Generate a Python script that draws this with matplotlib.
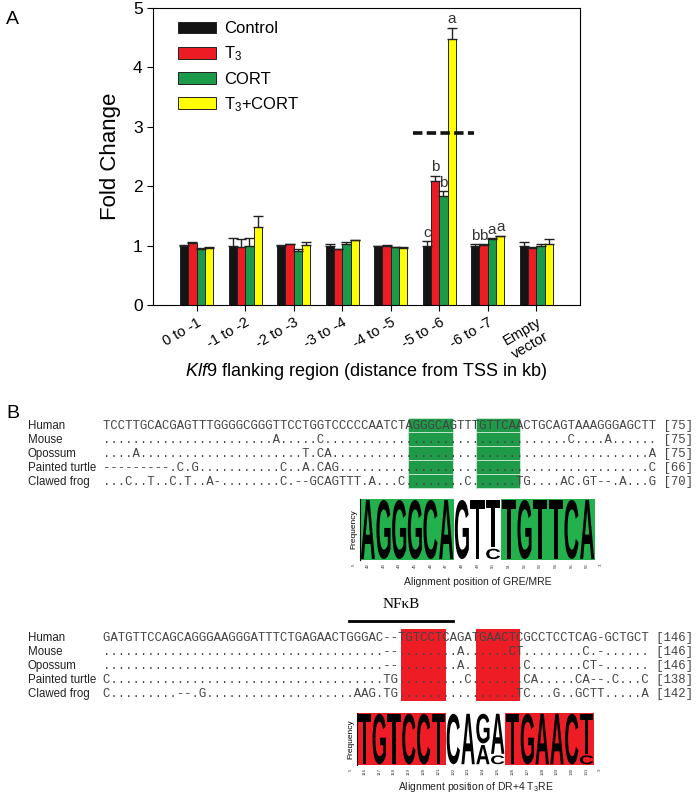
import numpy as np
import matplotlib
matplotlib.use("Agg")
import matplotlib.pyplot as plt
from matplotlib.patches import Rectangle, PathPatch, Patch
from matplotlib.textpath import TextPath
from matplotlib.font_manager import FontProperties
from matplotlib.transforms import Affine2D

plt.rcParams['font.family'] = ['Liberation Sans', 'DejaVu Sans']
plt.rcParams['mathtext.fontset'] = 'custom'
plt.rcParams['mathtext.rm'] = 'Liberation Sans'
plt.rcParams['mathtext.it'] = 'Liberation Sans:italic'

W, H = 700, 794

# ---- panel A data ----
regions = ["0 to -1", "-1 to -2", "-2 to -3", "-3 to -4", "-4 to -5",
           "-5 to -6", "-6 to -7", "Empty\nvector"]
treatments = ["Control", "T$_3$", "CORT", "T$_3$+CORT"]
control = [1.00, 0.99, 0.99, 1.00, 0.99, 0.99, 0.99, 0.99]
t3 = [1.04, 0.97, 1.02, 0.94, 1.00, 2.09, 1.01, 0.96]
cort = [0.95, 0.99, 0.91, 1.03, 0.97, 1.83, 1.11, 0.99]
t3_cort = [0.96, 1.32, 1.01, 1.09, 0.96, 4.48, 1.16, 1.02]
control_err = [0.01, 0.13, 0.02, 0.03, 0.01, 0.08, 0.04, 0.07]
t3_err = [0.02, 0.14, 0.01, 0.01, 0.01, 0.09, 0.01, 0.02]
cort_err = [0.01, 0.13, 0.04, 0.03, 0.01, 0.09, 0.01, 0.04]
t3_cort_err = [0.01, 0.17, 0.05, 0.01, 0.01, 0.19, 0.01, 0.09]
sig_letters = {5: ["c", "b", "b", "a"], 6: ["b", "b", "a", "a"]}
threshold = 2.9
threshold_span = (4.45, 5.72)

# ---- panel B data ----
species = ["Human", "Mouse", "Opossum", "Painted turtle", "Clawed frog"]
gre_rows = [
    "TCCTTGCACGAGTTTGGGGCGGGTTCCTGGTCCCCCAATCTAGGGCAGTTTGTTCAACTGCAGTAAAGGGAGCTT",
    (".........." ".........." "...A.....C" ".........." ".........."
     ".........." "...C....A." "....."),
    ("....A....." ".........." ".......T.C" "A........." ".........."
     ".........." ".........." "....A"),
    ("---------." "C.G......." "....C..A.C" "AG........" ".........."
     ".........." ".........." "....C"),
    ("...C..T..C" ".T..A-...." "....C.--GC" "AGTTT.A..." "C........C"
     "......TG.." "..AC.GT--." "A...G"),
]
gre_counts = ["[75]", "[75]", "[75]", "[66]", "[70]"]
gre_sites = [(41, 46), (50, 55)]
gre_logo_cols = (41, 55)
gre_pos_offset = 1

t3re_rows = [
    "GATGTTCCAGCAGGGAAGGGATTTCTGAGAACTGGGAC--TGTCCTCAGATGAACTCGCCTCCTCAG-GCTGCT",
    (".........." ".........." ".........." "........--" "........A."
     ".....CT..." ".....C.-.." "...."),
    (".........." ".........." ".........." "........--" "........A."
     ".......C.." ".....CT-.." "...."),
    ("C........." ".........." ".........." "........TG" ".........C"
     ".......CA." "....CA--.C" "...C"),
    ("C........." "--.G......" ".........." "....AAG.TG" ".........."
     "......TC.." ".G..GCTT.." "...A"),
]
t3re_counts = ["[146]", "[146]", "[146]", "[138]", "[142]"]
t3re_sites = [(40, 45), (50, 55)]
t3re_logo_cols = (40, 55)
t3re_pos_offset = 76
nfkb_cols = (33, 46)

bar_colors = ["#141414", "#ec1c24", "#1b9a4a", "#ffff00"]
box_green, logo_green = "#1f9a48", "#22b14c"
box_red = "#ee1c25"

fig = plt.figure(figsize=(W / 100, H / 100), dpi=100)

# overlay in pixel coordinates for the alignment text
ov = fig.add_axes([0, 0, 1, 1])
ov.set_xlim(0, W)
ov.set_ylim(H, 0)
ov.axis("off")

# ---------------- panel A ----------------
ax = fig.add_axes([153 / W, 1 - 305 / H, 427 / W, 297 / H])
x = np.arange(len(regions))
width = 0.172
series = [control, t3, cort, t3_cort]
errs = [control_err, t3_err, cort_err, t3_cort_err]
for i, (vals, err, col) in enumerate(zip(series, errs, bar_colors)):
    xs = x + (i - 1.5) * width
    ax.bar(xs, vals, width, color=col, edgecolor="#222222", linewidth=0.7,
           label=treatments[i], zorder=2)
    ax.errorbar(xs, vals, yerr=[np.zeros(len(vals)), err], fmt="none",
                ecolor="#222222", elinewidth=1, capsize=3.5, capthick=1, zorder=3)
for g, letters in sig_letters.items():
    for i, let in enumerate(letters):
        top = series[i][g] + errs[i][g]
        ax.text(g + (i - 1.5) * width, top + 0.02, let, ha="center", va="bottom",
                fontsize=11, color="#333333")
ax.plot(threshold_span, [threshold, threshold], color="#111111", lw=2.6,
        dashes=(2.6, 1.2), zorder=4)

ax.set_xlim(-0.9, 7.9)
ax.set_ylim(0, 5)
ax.set_yticks(range(6))
ax.tick_params(axis="y", labelsize=12.5, direction="out", length=4)
ax.set_xticks(x)
ax.set_xticklabels(regions, rotation=30, ha="right", rotation_mode="anchor",
                   fontsize=10.5, multialignment="center")
ax.tick_params(axis="x", direction="out", length=4)
ax.set_ylabel("Fold Change", fontsize=16)
ax.yaxis.set_label_coords(-0.075, 0.5)
ax.set_xlabel(r"$\it{Klf9}$ flanking region (distance from TSS in kb)", fontsize=13)
ax.xaxis.set_label_coords(0.5, -0.19)
handles = [Patch(facecolor=c, edgecolor="#222222", linewidth=0.7, label=l)
           for c, l in zip(bar_colors, treatments)]
ax.legend(handles=handles, loc="upper left", bbox_to_anchor=(0.058, 0.955),
          frameon=False, fontsize=12, handlelength=2.3, handleheight=0.7,
          handletextpad=0.5, labelspacing=0.5, borderpad=0, borderaxespad=0)

ov.text(6, 20, "A", fontsize=14, va="center")
ov.text(6, 413, "B", fontsize=14, va="center")

# ---------------- panel B ----------------
cw = 7.45
seq_x0 = 103
row_gap = 14
mono_size = cw / 0.6 * 72 / 100
seq_color = "#444444"


def draw_block(rows, counts, y0, sites, color, split_rows):
    ys = [y0 + k * row_gap for k in range(len(rows))]
    for c0, c1 in sites:
        if split_rows:
            for y in ys:
                ov.add_patch(Rectangle((seq_x0 + c0 * cw, y - row_gap / 2 - 1),
                                       (c1 - c0 + 1) * cw, row_gap, facecolor=color,
                                       edgecolor="#cfe9d4", linewidth=0.6))
        else:
            ov.add_patch(Rectangle((seq_x0 + c0 * cw, ys[0] - 9),
                                   (c1 - c0 + 1) * cw, ys[-1] - ys[0] + 16,
                                   facecolor=color, edgecolor="none"))
    for name, row, cnt, y in zip(species, rows, counts, ys):
        ov.text(28, y, name, fontsize=8.3, va="center", color="#222222")
        ov.text(seq_x0, y, row + " " + cnt, fontsize=mono_size, va="center",
                family="Liberation Mono", color=seq_color)
    return ys


def column_freqs(rows, c):
    ref = rows[0]
    letters = [ref[c] if r[c] == "." else r[c] for r in rows]
    letters = [l for l in letters if l != "-"]
    uniq = sorted(set(letters), key=lambda l: letters.count(l))
    return [(l, letters.count(l) / len(letters)) for l in uniq]


logo_font = FontProperties(family="Liberation Sans", weight="bold")


def draw_logo(rect, rows, cols, sites, color, offset, xlabel, label_y):
    lax = fig.add_axes([rect[0] / W, 1 - rect[3] / H, (rect[2] - rect[0]) / W,
                        (rect[3] - rect[1]) / H])
    c_lo, c_hi = cols
    n = c_hi - c_lo + 1
    lax.set_xlim(-0.5, n - 0.5)
    lax.set_ylim(0, 1)
    for s in ["top", "right", "bottom"]:
        lax.spines[s].set_visible(False)
    lax.spines["left"].set_linewidth(0.8)
    lax.set_xticks([])
    lax.set_yticks([])
    lax.set_ylabel("Frequency", fontsize=6, labelpad=2)
    for c0, c1 in sites:
        lax.add_patch(Rectangle((c0 - c_lo - 0.5, 0), c1 - c0 + 1, 1,
                                facecolor=color, edgecolor="none"))
    for i, c in enumerate(range(c_lo, c_hi + 1)):
        y = 0.0
        for letter, f in column_freqs(rows, c):
            tp = TextPath((0, 0), letter, size=1, prop=logo_font)
            bb = tp.get_extents()
            tr = (Affine2D().translate(-bb.x0, -bb.y0)
                  .scale(0.9 / bb.width, (f - 0.03) / bb.height)
                  .translate(i - 0.45, y + 0.015))
            lax.add_patch(PathPatch(tr.transform_path(tp), facecolor="black",
                                    edgecolor="none"))
            y += f
        lax.text(i, -0.05, str(c + offset), transform=lax.get_xaxis_transform(),
                 rotation=90, ha="center", va="top", fontsize=3.2, color="#333333")
    lax.text(-0.9, -0.05, "5'", transform=lax.get_xaxis_transform(), rotation=90,
             ha="center", va="top", fontsize=3.2, color="#333333")
    lax.text(n - 0.1, -0.05, "3'", transform=lax.get_xaxis_transform(), rotation=90,
             ha="center", va="top", fontsize=3.2, color="#333333")
    ov.text((rect[0] + rect[2]) / 2, label_y, xlabel, ha="center", va="center",
            fontsize=7.5, color="#222222")


draw_block(gre_rows, gre_counts, 426, gre_sites, box_green, True)
draw_logo((360, 499, 595, 560), gre_rows, gre_logo_cols, gre_sites, logo_green,
          gre_pos_offset, "Alignment position of GRE/MRE", 582)

ys2 = draw_block(t3re_rows, t3re_counts, 638, t3re_sites, box_red, False)
ov.plot([seq_x0 + nfkb_cols[0] * cw, seq_x0 + (nfkb_cols[1] + 1) * cw], [621, 621],
        color="black", lw=2)
ov.text(seq_x0 + (nfkb_cols[0] + nfkb_cols[1] + 1) / 2 * cw, 604, "NF\u03baB",
        family="Liberation Serif", fontsize=11, ha="center", va="center")
draw_logo((357, 713, 594, 765), t3re_rows, t3re_logo_cols, t3re_sites, box_red,
          t3re_pos_offset, "Alignment position of DR+4 T$_3$RE", 787)

fig.savefig("out.png", dpi=100)
